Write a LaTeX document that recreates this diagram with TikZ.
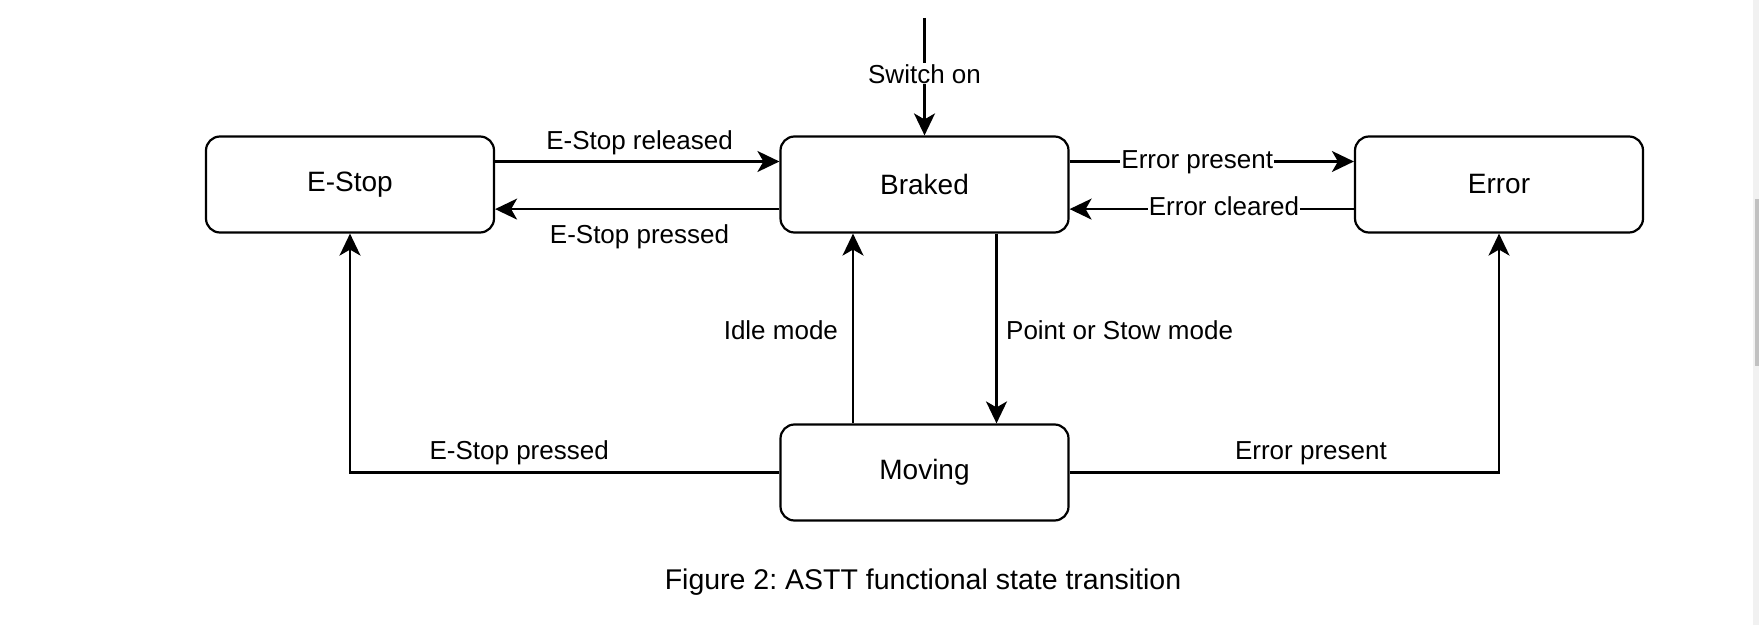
\documentclass[tikz,border=0pt]{standalone}
\usepackage{fontspec}
\setmainfont{Liberation Sans}
\usetikzlibrary{arrows.meta}
\definecolor{sbtrack}{HTML}{F1F1F1}
\definecolor{sbthumb}{HTML}{C1C1C1}
\frenchspacing
\begin{document}
\begin{tikzpicture}[x=0.5pt,y=-0.5pt,
  state/.style={draw=black, line width=1.1pt, rounded corners=7pt, minimum width=144pt, minimum height=48pt, inner sep=0pt, font=\fontsize{14}{16}\selectfont},
  arr/.style={line width=1.05pt, -{Stealth[length=11pt,width=10.5pt,inset=3pt]}},
  lbl/.style={font=\fontsize{13}{15}\selectfont, inner sep=0.5pt},
  bglbl/.style={lbl, fill=white}]
\useasboundingbox (0,0) rectangle (1759,625);
\fill[white] (0,0) rectangle (1759,625);
% scrollbar at the right edge
\fill[sbtrack] (1752.7,0) rectangle (1759,625);
\fill[sbthumb] (1755,199) rectangle (1759,366);

\node[state] (estop)  at (350,184.5)   {E-Stop};
\node[state] (braked) at (924.5,184.5) {Braked};
\node[state] (error)  at (1499,184.5)  {Error};
\node[state] (moving) at (924.5,472.5) {Moving};

\coordinate (start) at (924.5,18);
\draw[arr] (start) -- node[bglbl, pos=0.555, anchor=base]{Switch on} (braked.north);

\draw[arr] ([yshift=11.5pt]estop.east) -- node[lbl, pos=0.508, anchor=base, yshift=6.2pt]{E-Stop released} ([yshift=11.5pt]braked.west);
\draw[arr] ([yshift=-12.3pt]braked.west) -- node[lbl, pos=0.492, anchor=base, yshift=-17.4pt]{E-Stop pressed} ([yshift=-12.3pt]estop.east);

\draw[arr] ([yshift=11.5pt]braked.east) -- node[bglbl, pos=0.449, anchor=base, yshift=-3.3pt]{Error present} ([yshift=11.5pt]error.west);
\draw[arr] ([yshift=-12.3pt]error.west) -- node[bglbl, pos=0.457, anchor=base, yshift=-3.4pt]{Error cleared} ([yshift=-12.3pt]braked.east);

\draw[arr] ([xshift=-35.75pt]moving.north) -- node[lbl, pos=0.421, anchor=base east, xshift=-6.5pt, yshift=2.2pt]{Idle mode} ([xshift=-35.75pt]braked.south);
\draw[arr] ([xshift=36pt]braked.south) -- node[lbl, pos=0.579, anchor=base west, xshift=3.8pt, yshift=2.2pt]{Point or Stow mode} ([xshift=36pt]moving.north);

\draw[arr] (moving.west) -| node[lbl, pos=0.303, anchor=base, yshift=6.6pt]{E-Stop pressed} (estop.south);
\draw[arr] (moving.east) -| node[lbl, pos=0.281, anchor=base, yshift=6.6pt]{Error present} (error.south);

\node[font=\fontsize{14.25}{17}\selectfont, inner sep=0pt, anchor=base] (caption) at (923,589) {Figure 2: ASTT functional state transition};
\end{tikzpicture}
\end{document}
